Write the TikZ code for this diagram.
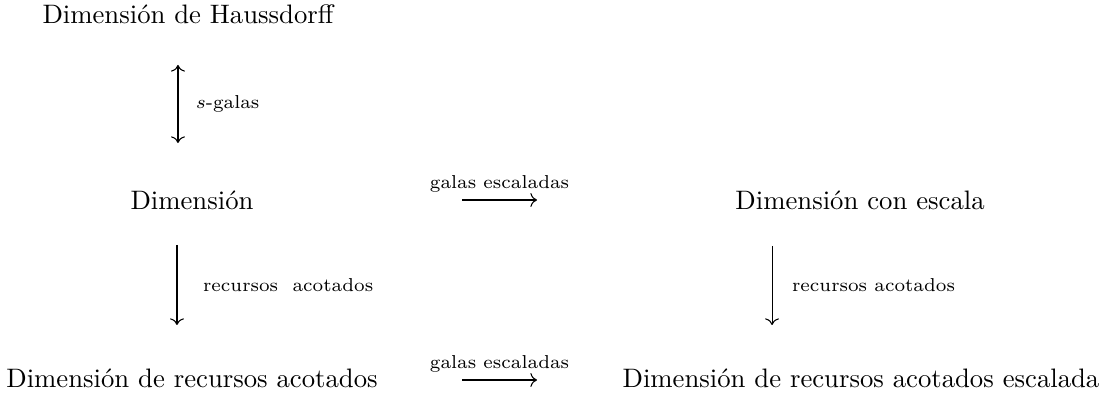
\documentclass[tikz,border=0pt]{standalone}
\usepackage{amsmath}
\usepackage{tikz}
\usetikzlibrary{arrows.meta, positioning}

\tikzset{
  dimnode/.style={inner sep=0pt, align=center},
  arrlabel/.style={font=\scriptsize},
  mapto/.style={->, line width=0.4pt}
}

\begin{document}
\begin{tikzpicture}
  \useasboundingbox (0,0) rectangle (14.515,5.211);

  % --- Nodes ---
  \node[dimnode] (haus) at (2.474,5.021) {Dimensión de Haussdorff};
  \node[dimnode] (dim) at (2.527,2.579) {Dimensión};
  \node[dimnode] (dimesc) at (11.318,2.579) {Dimensión con escala};
  \node[dimnode] (dimrec) at (2.527,0.237) {Dimensión de recursos acotados};
  \node[dimnode] (dimrecesc) at (11.33,0.237) {Dimensión de recursos acotados escalada};

  % --- Arrow ends ---
  \coordinate (hausS) at (2.342,4.356);
  \coordinate (dimN) at (2.342,3.329);
  \coordinate (dimS) at (2.329,1.987);
  \coordinate (dimrecN) at (2.329,0.934);
  \coordinate (dimescS) at (10.16,1.974);
  \coordinate (dimrecescN) at (10.16,0.934);
  \coordinate (midL) at (6.08,2.579);
  \coordinate (midR) at (7.067,2.579);
  \coordinate (botL) at (6.08,0.21);
  \coordinate (botR) at (7.067,0.21);

  % --- Vertical arrows ---
  \draw[<->] (hausS) -- node[arrlabel, right=0.11cm] {$s$-galas} (dimN);
  \draw[mapto] (dimS) -- node[arrlabel, right=0.22cm] {recursos\ \ acotados} (dimrecN);
  \draw[mapto] (dimescS) -- node[arrlabel, right=0.14cm] {recursos acotados} (dimrecescN);

  % --- Horizontal arrows ---
  \draw[mapto] (midL) -- node[arrlabel, above=-0.02cm] {galas escaladas} (midR);
  \draw[mapto] (botL) -- node[arrlabel, above=-0.02cm] {galas escaladas} (botR);
\end{tikzpicture}
\end{document}
